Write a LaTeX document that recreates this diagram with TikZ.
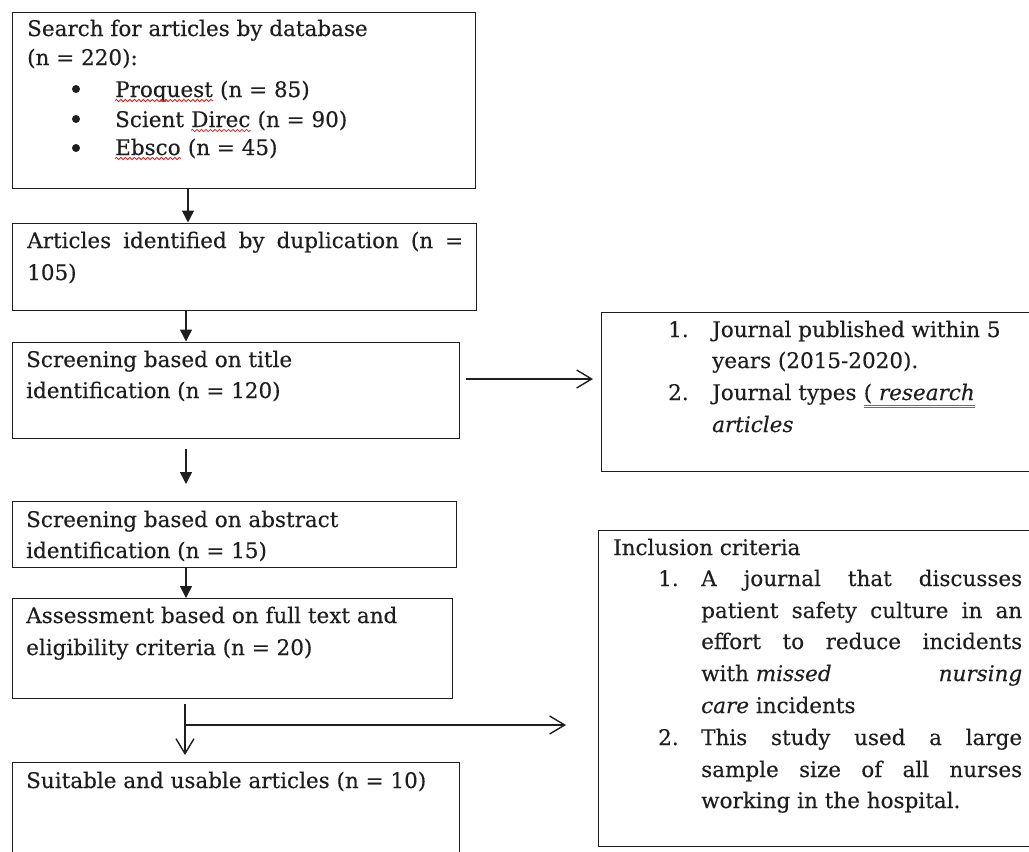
\documentclass[tikz,border=0pt]{standalone}
\usepackage{fontspec}
\setmainfont{DejaVu Serif}[FakeBold=0.25]
\usetikzlibrary{arrows.meta,decorations.pathmorphing}
\definecolor{ink}{HTML}{1E1E1E}
\definecolor{spell}{HTML}{E02020}
\definecolor{gram}{HTML}{4472C4}
\begin{document}
\begin{tikzpicture}[x=1pt,y=-1pt,
  box/.style={draw=ink, line width=1.4pt, inner sep=0pt, anchor=north west, rectangle},
  txt/.style={anchor=base west, inner sep=0pt, text=ink, font=\fontsize{21.5pt}{31pt}\selectfont},
  dot/.style={circle, fill=ink, inner sep=0pt, minimum size=8pt},
  farr/.style={draw=ink, line width=1.4pt, -{Triangle[length=12pt,width=12pt]}},
  oarr/.style={draw=ink, line width=1.4pt, -{Straight Barb[length=15pt,width=18pt,line width=1.4pt]}},
  squig/.style={draw=spell, line width=0.8pt, decorate, decoration={snake, amplitude=1.1pt, segment length=4.5pt}},
  dbl/.style={draw=gram, line width=0.9pt}]
\path[use as bounding box] (0,0) rectangle (1029,852);
\clip (0,0) rectangle (1029,852);
\fill[white] (0,0) rectangle (1029,852);

% boxes
\node[box, minimum width=463pt, minimum height=176pt] (b1) at (12,12) {};
\node[box, minimum width=464pt, minimum height=87pt] (b2) at (12,222.5) {};
\node[box, minimum width=447pt, minimum height=96pt] (b3) at (12,341.5) {};
\node[box, minimum width=444pt, minimum height=65.5pt] (b4) at (12,501) {};
\node[box, minimum width=440pt, minimum height=100pt] (b5) at (12,598) {};
\node[box, minimum width=447pt, minimum height=110pt] (b6) at (12,762) {};
\node[box, minimum width=440pt, minimum height=159pt] (r1) at (601,312) {};
\node[box, minimum width=440pt, minimum height=316pt] (r2) at (598,530) {};

% box 1 text
\node[txt] (t1a) at (27,36) {Search for articles by database};
\node[txt] (t1b) at (27,65) {(n = 220):};
\node[dot] (u1) at (76,89) {};
\node[dot] (u2) at (76,119) {};
\node[dot] (u3) at (76,148) {};
\node[txt] (w1) at (115,97) {Proquest};
\node[txt] (t1c) at ([xshift=6.8pt]w1.base east) {(n = 85)};
\node[txt] (t1d) at (115,127) {Scient};
\node[txt] (w2) at ([xshift=6.8pt]t1d.base east) {Direc};
\node[txt] (t1f) at ([xshift=6.8pt]w2.base east) {(n = 90)};
\node[txt] (w3) at (115,155) {Ebsco};
\node[txt] (t1e) at ([xshift=6.8pt]w3.base east) {(n = 45)};
\draw[squig] ([yshift=-3.5pt]w1.base west) -- ([yshift=-3.5pt]w1.base east);
\draw[squig] ([yshift=-3.5pt]w2.base west) -- ([yshift=-3.5pt]w2.base east);
\draw[squig] ([yshift=-3.5pt]w3.base west) -- ([yshift=-3.5pt]w3.base east);

% box 2 text
\node[txt] (t2a) at (27,248) {\makebox[436pt][s]{Articles identified by duplication (n =}};
\node[txt] (t2b) at (27,280) {105)};

% box 3..6 text
\node[txt] (t3a) at (26,367) {Screening based on title};
\node[txt] (t3b) at (26,398) {identification (n = 120)};
\node[txt] (t4a) at (26,527) {Screening based on abstract};
\node[txt] (t4b) at (26,558) {identification (n = 15)};
\node[txt] (t5a) at (26,623) {Assessment based on full text and};
\node[txt] (t5b) at (26,655) {eligibility criteria (n = 20)};
\node[txt] (t6a) at (26,788) {Suitable and usable articles (n = 10)};

% right box 1 text
\node[txt] (n1) at (668,337) {1.};
\node[txt] (r1a) at (712,337) {Journal published within 5};
\node[txt] (r1b) at (712,368) {years (2015-2020).};
\node[txt] (n2) at (668,400) {2.};
\node[txt] (r1c) at (712,400) {Journal types};
\node[txt] (r1u) at ([xshift=6.8pt]r1c.base east) {( \textit{research}};
\node[txt] (r1d) at (712,432) {\textit{articles}};
\draw[dbl] ([yshift=-5pt]r1u.base west) -- ([yshift=-5pt]r1u.base east);
\draw[dbl] ([yshift=-7.5pt]r1u.base west) -- ([yshift=-7.5pt]r1u.base east);

% right box 2 text
\node[txt] (r2h) at (613,555) {Inclusion criteria};
\node[txt] (m1) at (658,586) {1.};
\node[txt] (r2a) at (701,586) {\makebox[321pt][s]{A journal that discusses}};
\node[txt] (r2b) at (701,618) {\makebox[321pt][s]{patient safety culture in an}};
\node[txt] (r2c) at (701,649) {\makebox[321pt][s]{effort to reduce incidents}};
\node[txt] (r2d) at (701,681) {\makebox[321pt]{with \textit{missed}\hfill\textit{nursing}}};
\node[txt] (r2e) at (701,713) {\textit{care} incidents};
\node[txt] (m2) at (658,745) {2.};
\node[txt] (r2f) at (701,745) {\makebox[321pt][s]{This study used a large}};
\node[txt] (r2g) at (701,777) {\makebox[321pt][s]{sample size of all nurses}};
\node[txt] (r2i) at (701,808) {working in the hospital.};

% connectors
\coordinate (s1) at (188,0);
\coordinate (sp) at (186,0);
\coordinate (ya) at (0,379);
\coordinate (yb) at (0,725);
\draw[farr] (b1.south -| s1) -- (b2.north -| s1);
\draw[farr] (b2.south -| sp) -- (b3.north -| sp);
\draw[farr, shorten <=10pt, shorten >=17pt] (b3.south -| sp) -- (b4.north -| sp);
\draw[farr, shorten <=-1pt] (b4.south -| sp) -- (b5.north -| sp);
\draw[oarr, shorten <=6pt, shorten >=8pt] (b3.east |- ya) -- (r1.west |- ya);
\coordinate (br) at (185,725);
\draw[oarr, shorten <=5pt, shorten >=7pt] (b5.south -| br) -- (b6.north -| br);
\draw[oarr, shorten >=32pt] (br) -- (r2.west |- yb);
\end{tikzpicture}
\end{document}
